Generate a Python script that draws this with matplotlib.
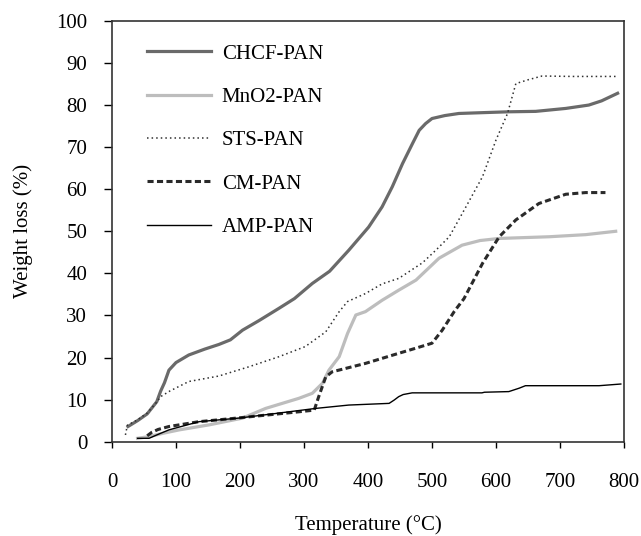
import matplotlib
matplotlib.use('Agg')
import matplotlib.pyplot as plt
import numpy as np

plt.rcParams['font.family'] = ['Liberation Serif', 'DejaVu Serif']

# TGA curves: temperature (C) and weight loss (%)
chcf_t = [25, 40, 55, 70, 76, 82, 89, 100, 120, 145, 167, 185, 204, 230, 261, 285,
          313, 340, 370, 401, 422, 438, 454, 470, 480, 490, 500, 520, 542, 580, 620,
          662, 709, 745, 765, 790]
chcf_w = [3.6, 5.0, 6.6, 9.5, 12.0, 14.0, 17.0, 18.8, 20.6, 22.0, 23.1, 24.2, 26.5,
          28.8, 31.7, 34.0, 37.6, 40.5, 45.5, 51.0, 55.8, 60.6, 66.1, 71.0, 74.0,
          75.6, 76.8, 77.5, 78.0, 78.2, 78.4, 78.5, 79.2, 80.0, 81.0, 82.8]

mno2_t = [40, 58, 80, 105, 152, 204, 240, 292, 313, 329, 339, 355, 368, 381, 396,
          422, 448, 475, 511, 547, 575, 605, 683, 740, 787]
mno2_w = [0.8, 1.2, 2.0, 2.8, 4.0, 5.6, 7.9, 10.3, 11.5, 13.9, 17.0, 20.2, 25.7,
          30.1, 30.9, 33.6, 36.0, 38.4, 43.6, 46.7, 47.8, 48.3, 48.7, 49.2, 50.0]

sts_t = [21, 24, 40, 55, 70, 76, 90, 120, 167, 214, 261, 302, 334, 355, 368, 396,
         422, 448, 464, 485, 506, 527, 553, 579, 600, 618, 631, 650, 672, 720, 787]
sts_w = [1.6, 3.9, 5.2, 6.8, 9.4, 10.7, 12.0, 14.3, 15.6, 17.8, 20.2, 22.6, 26.1,
         30.9, 33.3, 35.2, 37.5, 38.8, 40.4, 42.5, 45.5, 48.7, 55.8, 63.0, 71.7,
         78.0, 85.1, 86.0, 86.9, 86.8, 86.8]

cm_t = [55, 62, 72, 89, 136, 188, 240, 292, 316, 323, 334, 344, 396, 448, 470, 500,
        516, 535, 550, 579, 605, 631, 667, 709, 740, 771]
cm_w = [1.4, 2.2, 2.9, 3.6, 4.75, 5.5, 6.3, 7.1, 7.5, 10.7, 15.4, 16.6, 18.6, 21.0,
        22.0, 23.4, 26.5, 31.0, 34.0, 42.4, 48.7, 52.7, 56.6, 58.8, 59.2, 59.2]

amp_t = [40, 58, 70, 89, 136, 198, 256, 318, 370, 433, 441, 448, 455, 469, 578, 582,
         620, 636, 646, 761, 795]
amp_w = [0.8, 0.8, 1.6, 2.8, 4.75, 5.6, 6.7, 7.9, 8.7, 9.1, 9.9, 10.7, 11.2, 11.6,
         11.6, 11.75, 11.9, 12.7, 13.3, 13.3, 13.7]

fig = plt.figure(figsize=(6.41, 5.36), dpi=100)
ax = fig.add_axes([0.1747, 0.176, 0.7988, 0.785])

ax.plot(chcf_t, chcf_w, color='#6a6a6a', lw=2.3, label='CHCF-PAN')
ax.plot(mno2_t, mno2_w, color='#bdbdbd', lw=2.3, label='MnO2-PAN')
ax.plot(sts_t, sts_w, color='#303030', lw=1.1, dashes=(1, 2), label='STS-PAN')
ax.plot(cm_t, cm_w, color='#2a2a2a', lw=2.2, dashes=(2.0, 1.1), label='CM-PAN')
ax.plot(amp_t, amp_w, color='black', lw=1.0, label='AMP-PAN')

ax.set_xlim(0, 800)
ax.set_ylim(0, 100)
ax.set_xticks(np.arange(0, 801, 100))
ax.set_yticks(np.arange(0, 101, 10))
ax.tick_params(axis='x', direction='out', length=4.3, width=1.0, pad=18, labelsize=15)
ax.tick_params(axis='y', direction='out', length=5.8, width=1.0, pad=12, labelsize=15)
for s in ax.spines.values():
    s.set_color('#333333')
    s.set_linewidth(1.2)

ax.set_xlabel('Temperature (°C)', fontsize=15, labelpad=17)
ax.set_ylabel('Weight loss (%)', fontsize=15, labelpad=17)

ax.legend(loc='upper left', bbox_to_anchor=(146.7 / 641, 1 - 44 / 536),
          bbox_transform=fig.transFigure, frameon=False, fontsize=15,
          borderaxespad=0, borderpad=0, handlelength=3.1, handletextpad=0.5,
          labelspacing=1.14)

fig.savefig('out.png', dpi=100)
